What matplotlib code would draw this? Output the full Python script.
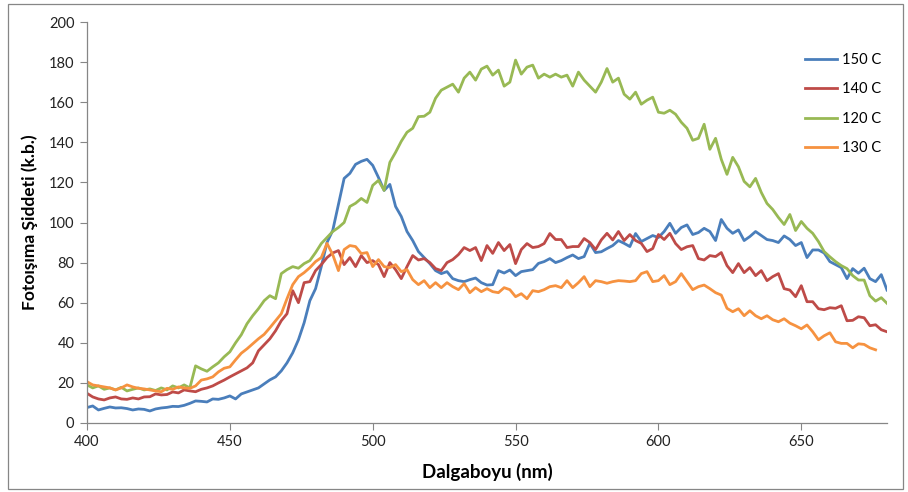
import numpy as np
import matplotlib
matplotlib.use("Agg")
import matplotlib.pyplot as plt
from matplotlib.patches import Rectangle

plt.rcParams['font.family'] = ['Lato', 'DejaVu Sans']

# dalgaboyu ekseni (2 nm adim)
wl = np.arange(400, 681, 2)

seri_150 = [7.7, 8.5, 6.5, 7.3, 8.0, 7.5, 7.6, 7.2, 6.5, 7.0,
            6.8, 6.0, 7.0, 7.5, 7.8, 8.3, 8.2, 8.8, 9.8, 11.0,
            10.8, 10.5, 12.0, 11.8, 12.5, 13.5, 12.0, 14.5, 15.5, 16.5,
            17.5, 19.5, 21.5, 23.0, 26.0, 30.0, 35.0, 41.5, 50.0, 61.0,
            67.0, 78.0, 90.0, 96.0, 109.0, 122.0, 124.5, 129.0, 130.5, 131.5,
            128.5, 122.5, 116.0, 119.0, 108.0, 103.0, 95.5, 91.0, 85.5, 82.5,
            79.5, 76.0, 74.5, 75.5, 72.0, 71.0, 70.5, 71.5, 72.3, 70.0,
            68.8, 69.0, 76.0, 74.8, 76.3, 73.5, 75.5, 76.0, 76.5, 79.6,
            80.5, 82.0, 80.0, 81.0, 82.5, 83.8, 82.0, 83.0, 89.6, 85.0,
            85.4, 87.0, 88.5, 91.0, 89.6, 88.0, 94.5, 90.5, 92.0, 93.5,
            92.5, 95.5, 99.6, 94.6, 97.5, 98.8, 94.0, 95.0, 97.1, 95.5,
            91.0, 101.5, 97.1, 94.6, 96.3, 91.0, 93.0, 95.5, 93.5, 91.5,
            91.0, 90.0, 93.3, 91.5, 88.5, 90.0, 82.5, 86.3, 86.3, 84.8,
            80.5, 79.0, 77.5, 72.0, 77.0, 74.7, 77.2, 72.0, 70.5, 74.0,
            66.3]

seri_140 = [14.8, 13.0, 12.0, 11.5, 12.5, 13.0, 12.0, 11.8, 12.5, 12.0,
            13.0, 13.1, 14.5, 14.0, 14.2, 15.5, 15.0, 16.5, 16.0, 15.6,
            16.8, 17.5, 18.5, 20.0, 21.4, 23.0, 24.5, 26.0, 27.5, 30.0,
            36.0, 39.0, 42.0, 46.0, 51.0, 54.5, 66.0, 60.0, 70.0, 70.5,
            76.0, 79.0, 82.5, 84.8, 86.0, 79.0, 82.5, 78.0, 83.5, 80.0,
            81.0, 79.0, 73.0, 80.0, 76.5, 72.0, 78.0, 83.5, 81.3, 82.0,
            80.0, 77.0, 76.0, 80.0, 81.5, 84.0, 87.5, 86.0, 87.5, 81.0,
            88.5, 84.6, 90.0, 86.0, 89.0, 79.5, 86.5, 89.5, 87.5, 88.0,
            89.5, 94.5, 91.5, 91.5, 87.5, 88.0, 88.0, 92.0, 90.0, 86.5,
            91.3, 94.6, 91.3, 95.5, 91.0, 94.0, 91.0, 89.6, 85.5, 87.0,
            94.0, 91.5, 94.6, 89.5, 86.5, 87.9, 88.5, 82.0, 81.3, 83.5,
            83.0, 85.0, 78.5, 75.0, 79.5, 75.0, 77.5, 73.5, 76.0, 71.0,
            73.0, 74.5, 67.0, 66.3, 63.0, 68.5, 60.5, 60.5, 57.0, 56.5,
            57.5, 57.2, 58.5, 51.0, 51.2, 53.0, 52.5, 48.5, 49.0, 46.5,
            45.5]

seri_120 = [19.0, 17.5, 18.5, 16.8, 17.5, 16.5, 17.8, 16.0, 16.8, 17.5,
            16.5, 17.0, 16.2, 17.5, 16.5, 18.5, 17.5, 19.0, 17.5, 28.5,
            27.0, 25.8, 28.0, 30.0, 33.0, 35.5, 40.0, 44.0, 49.5, 53.5,
            57.0, 61.0, 63.5, 62.0, 74.5, 76.5, 78.0, 77.2, 79.5, 81.0,
            85.0, 89.5, 92.5, 95.5, 97.5, 100.0, 108.0, 109.6, 112.0, 110.0,
            118.5, 121.0, 116.0, 130.0, 135.0, 140.5, 145.0, 147.0, 152.8, 153.0,
            155.0, 162.0, 166.0, 167.5, 169.0, 165.0, 172.0, 175.0, 171.0, 176.5,
            178.0, 173.5, 176.0, 168.0, 170.0, 181.0, 174.0, 177.5, 178.5, 172.0,
            174.0, 172.5, 174.0, 172.5, 173.5, 168.0, 175.0, 171.0, 168.0, 165.0,
            170.0, 176.8, 170.0, 172.0, 164.0, 161.5, 165.0, 159.0, 161.0, 162.5,
            155.0, 154.5, 156.0, 154.0, 150.0, 147.0, 141.0, 142.0, 149.0, 136.5,
            142.0, 131.5, 124.0, 132.5, 127.8, 120.5, 117.8, 122.0, 115.0, 109.5,
            106.5, 102.5, 99.0, 104.0, 96.0, 100.5, 97.1, 94.6, 90.5, 85.5,
            82.9, 80.5, 78.5, 77.0, 73.5, 71.3, 71.3, 63.5, 60.8, 62.5,
            59.7]

seri_130 = [20.6, 19.0, 18.5, 18.0, 17.5, 16.5, 17.5, 19.0, 18.0, 17.3,
            17.0, 16.5, 16.0, 15.6, 17.3, 16.8, 18.0, 17.5, 17.3, 18.5,
            21.4, 22.0, 23.0, 25.5, 27.3, 28.0, 31.5, 34.8, 37.0, 39.5,
            42.0, 44.2, 47.5, 51.0, 54.5, 62.0, 69.0, 73.0, 75.0, 77.5,
            80.5, 82.5, 89.6, 84.0, 76.0, 86.5, 88.5, 88.0, 84.5, 85.0,
            78.0, 81.5, 78.0, 77.5, 79.0, 75.5, 76.5, 71.5, 69.0, 71.0,
            67.5, 70.0, 67.5, 70.0, 68.0, 66.5, 69.5, 65.0, 67.5, 65.5,
            67.0, 65.5, 65.0, 67.5, 66.5, 63.0, 64.5, 62.0, 66.0, 65.5,
            66.5, 68.0, 68.5, 67.5, 71.0, 67.5, 70.0, 73.0, 68.0, 71.0,
            70.5, 69.7, 70.5, 71.0, 70.8, 70.5, 71.0, 74.5, 75.5, 70.5,
            71.0, 73.5, 69.0, 70.5, 74.5, 70.5, 66.5, 68.0, 68.8, 67.0,
            65.0, 63.8, 57.2, 55.5, 57.0, 53.5, 56.0, 53.5, 52.0, 53.5,
            51.5, 50.5, 52.0, 49.8, 48.5, 47.0, 48.9, 45.5, 41.5, 43.5,
            45.0, 40.5, 39.7, 39.7, 37.5, 39.5, 39.2, 37.5, 36.5]

etiketler = ["150 C", "140 C", "120 C", "130 C"]
renkler = ["#4A7EBB", "#BE4B48", "#98B954", "#F69240"]
seriler = [seri_150, seri_140, seri_120, seri_130]

fig = plt.figure(figsize=(9.08, 4.92), dpi=100)
ax = fig.add_axes([87/908, 1 - 423/492, 800/908, 401/492])

for y, lab, c in zip(seriler, etiketler, renkler):
    ax.plot(wl[:len(y)], y, color=c, lw=2.0, label=lab)

ax.set_xlim(400, 680)
ax.set_ylim(0, 200)
ax.set_xticks([400, 450, 500, 550, 600, 650])
ax.set_yticks(range(0, 201, 20))

for s in ["top", "right"]:
    ax.spines[s].set_visible(False)
for s in ["left", "bottom"]:
    ax.spines[s].set_color("#868686")
    ax.spines[s].set_linewidth(0.9)
ax.tick_params(direction="out", length=5, color="#868686", labelsize=10.5,
               labelcolor="#222222", pad=4)

ax.set_xlabel("Dalgaboyu (nm)", fontsize=13.5, fontweight="bold", labelpad=10)
ax.set_ylabel("Fotoışıma Şiddeti (k.b.)", fontsize=12.5, fontweight="bold", labelpad=8)

leg = ax.legend(loc="upper left", bbox_to_anchor=(792/908, 1 - 40/492),
                bbox_transform=fig.transFigure, frameon=False, fontsize=10.5,
                handlelength=2.2, handletextpad=0.3, labelspacing=1.05)

# cerceve
fig.patches.append(Rectangle((8/908, 1 - 489/492), 895/908, 485/492,
                             transform=fig.transFigure, fill=False,
                             edgecolor="#868686", lw=0.9))

fig.savefig("out.png", dpi=100)
